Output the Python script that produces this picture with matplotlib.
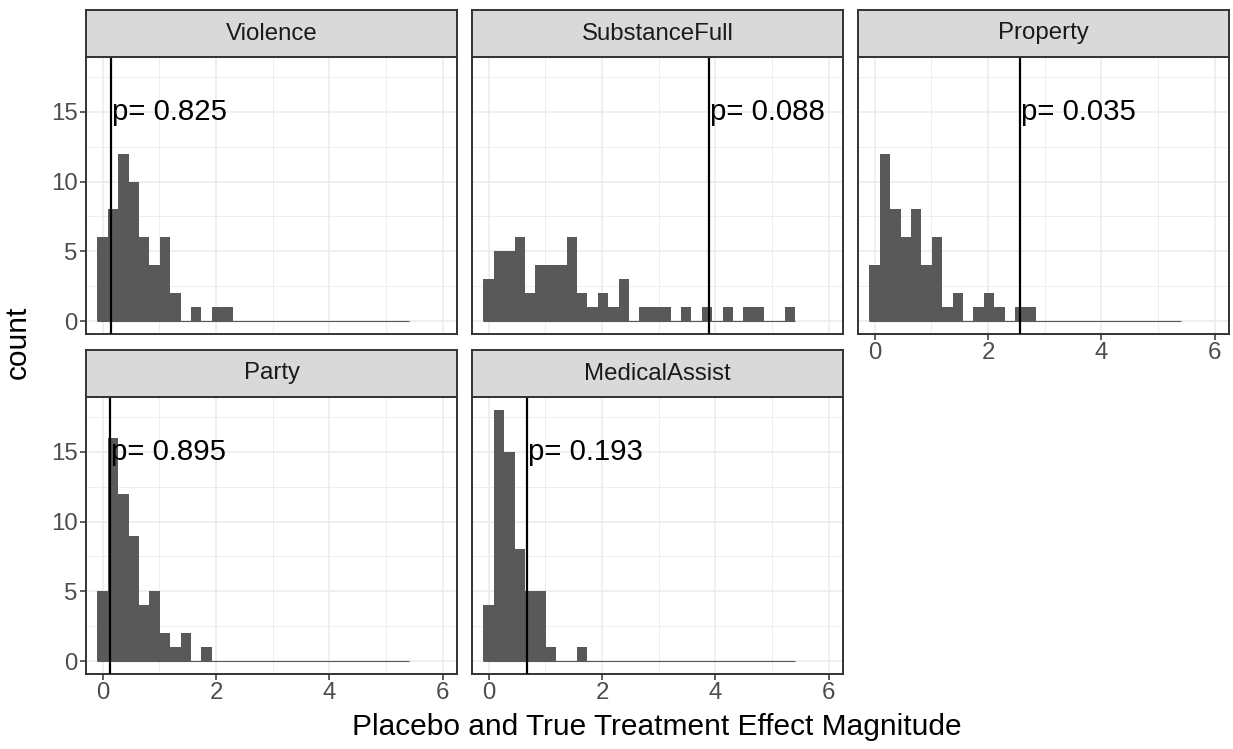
import numpy as np
import matplotlib
matplotlib.use("Agg")
import matplotlib.pyplot as plt
from matplotlib.ticker import FixedLocator

plt.rcParams['font.family'] = ['Liberation Sans', 'DejaVu Sans']

# ---- data ----
panels = ["Violence", "SubstanceFull", "Property", "Party", "MedicalAssist"]
bin_start = -0.0917
bin_width = 0.1834
n_bins = 30
counts = {
    "Violence":      [6, 8, 12, 10, 6, 4, 6, 2, 0, 1, 0, 1, 1] + [0] * 17,
    "SubstanceFull": [3, 5, 5, 6, 2, 4, 4, 4, 6, 2, 1, 2, 1, 3, 0, 1, 1, 1, 0, 1,
                      0, 1, 0, 1, 0, 1, 1, 0, 0, 1],
    "Property":      [4, 12, 8, 6, 8, 4, 6, 1, 2, 0, 1, 2, 1, 0, 1, 1] + [0] * 14,
    "Party":         [5, 16, 12, 9, 4, 5, 2, 1, 2, 0, 1] + [0] * 19,
    "MedicalAssist": [4, 18, 15, 8, 5, 5, 1, 0, 0, 1] + [0] * 20,
}
true_effect = {"Violence": 0.14, "SubstanceFull": 3.88, "Property": 2.56,
               "Party": 0.136, "MedicalAssist": 0.68}
p_values = {"Violence": "0.825", "SubstanceFull": "0.088", "Property": "0.035",
            "Party": "0.895", "MedicalAssist": "0.193"}
label_y = 15
x_ticks = [0, 2, 4, 6]
y_ticks = [0, 5, 10, 15]

# ---- layout (pixels) ----
W, H = 1233, 749
fig = plt.figure(figsize=(W / 100, H / 100), dpi=100)
col_left = [86, 472, 858]
pw = 371
rows = [(10, 57, 334), (350, 397, 674)]
positions = [(0, 0), (0, 1), (0, 2), (1, 0), (1, 1)]

edge_col = "#333333"
grid_col = "#EBEBEB"
bar_col = "#595959"
tick_col = "#4D4D4D"

edges = bin_start + bin_width * np.arange(n_bins + 1)
lefts = edges[:-1]

for name, (r, c) in zip(panels, positions):
    st, sb, pb = rows[r]
    x0 = col_left[c]
    ax = fig.add_axes([x0 / W, 1 - pb / H, pw / W, (pb - sb) / H])
    sax = fig.add_axes([x0 / W, 1 - sb / H, pw / W, (sb - st) / H])

    # strip
    sax.set_facecolor("#D9D9D9")
    sax.set_xticks([]); sax.set_yticks([])
    for s in sax.spines.values():
        s.set_color(edge_col); s.set_linewidth(1.4)
    sax.text(0.5, 0.5, name, ha="center", va="center", fontsize=17.3,
             color="#1A1A1A", transform=sax.transAxes)

    # panel
    ax.set_xlim(-0.293, 6.25)
    ax.set_ylim(-0.9, 18.9)
    ax.xaxis.set_major_locator(FixedLocator(x_ticks))
    ax.xaxis.set_minor_locator(FixedLocator([1, 3, 5]))
    ax.yaxis.set_major_locator(FixedLocator(y_ticks))
    ax.yaxis.set_minor_locator(FixedLocator([2.5, 7.5, 12.5, 17.5]))
    ax.grid(which="major", color=grid_col, lw=1.1)
    ax.grid(which="minor", color=grid_col, lw=0.6)
    ax.set_axisbelow(True)

    vals = np.array(counts[name])
    ax.bar(lefts, vals, width=bin_width, align="edge", color=bar_col,
           edgecolor="none", linewidth=0, zorder=2)
    ax.plot([edges[0], edges[-1]], [0, 0], color=bar_col, lw=0.8, zorder=2,
            solid_capstyle="butt")
    ax.axvline(true_effect[name], color="black", lw=1.6, zorder=3)
    ax.text(true_effect[name] + 0.02, label_y, "p= " + p_values[name],
            ha="left", va="center", fontsize=21.2, color="black", zorder=4)

    for s in ax.spines.values():
        s.set_color(edge_col); s.set_linewidth(1.4)
    ax.tick_params(which="minor", length=0)
    ax.tick_params(which="major", length=4, width=1.1, color=edge_col,
                   labelsize=17.3, labelcolor=tick_col, pad=2)

    show_y = (c == 0)
    show_x = (r == 1) or (name == "Property")
    if not show_y:
        ax.tick_params(axis="y", which="major", length=0, labelleft=False)
    if not show_x:
        ax.tick_params(axis="x", which="major", length=0, labelbottom=False)

fig.text(18 / W, 1 - 342 / H, "count", rotation=90, ha="center", va="center",
         fontsize=21.5, color="black")
fig.text(657 / W, 1 - 727 / H, "Placebo and True Treatment Effect Magnitude",
         ha="center", va="center", fontsize=21.5, color="black")

fig.savefig("out.png", dpi=100, facecolor="white")
